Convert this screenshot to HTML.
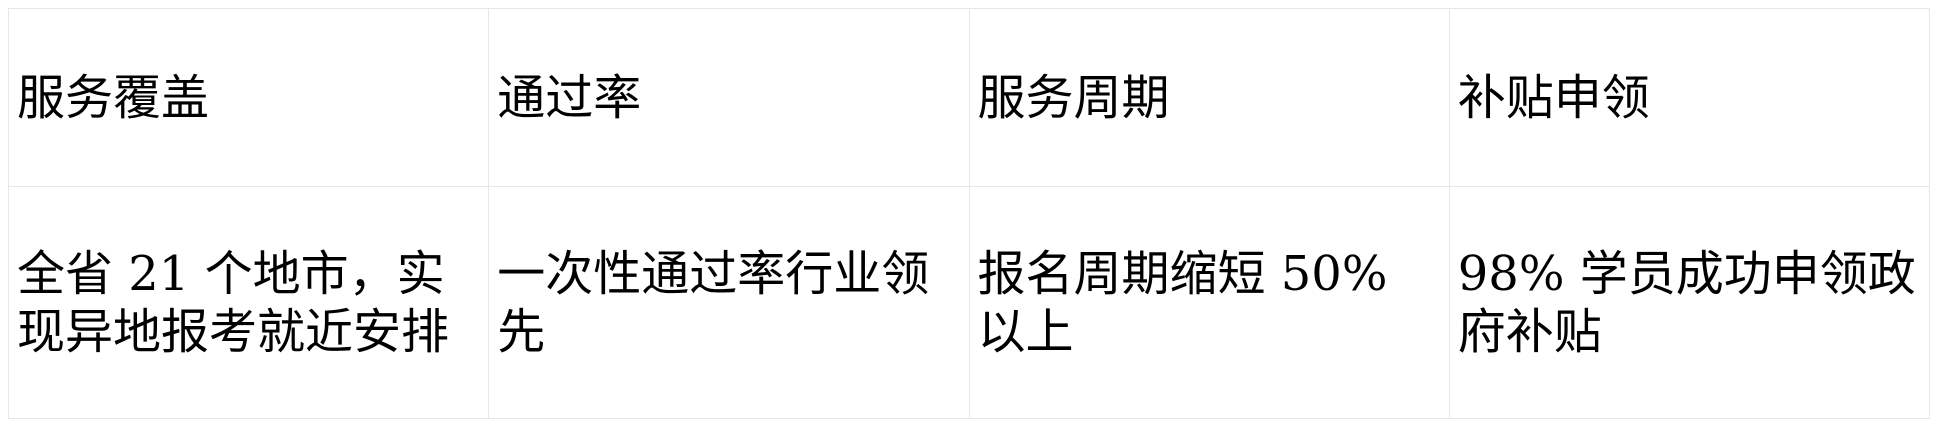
<!DOCTYPE html>
<html><head><meta charset="utf-8">
<style>
html,body{margin:0;padding:0;background:#fff;width:1940px;height:426px;overflow:hidden}
table{position:absolute;left:8px;top:8px;border-collapse:collapse;table-layout:fixed;width:1922px;
font-family:"DejaVu Serif","Noto Sans CJK SC",serif;font-size:48px;line-height:58px;color:#000}
col{width:480px}
td{box-sizing:border-box;border:1px solid #e6e6ea;padding:0 7px 0 8px;vertical-align:middle;word-break:break-all}
tr.h td{height:178px}
tr.b td{height:232px}
</style></head><body>
<table>
<colgroup><col><col><col><col></colgroup>
<tr class="h"><td>服务覆盖</td><td>通过率</td><td>服务周期</td><td>补贴申领</td></tr>
<tr class="b"><td>全省 21 个地市，实现异地报考就近安排</td><td>一次性通过率行业领先</td><td>报名周期缩短 50%<br>以上</td><td>98% 学员成功申领政府补贴</td></tr>
</table>
</body></html>
